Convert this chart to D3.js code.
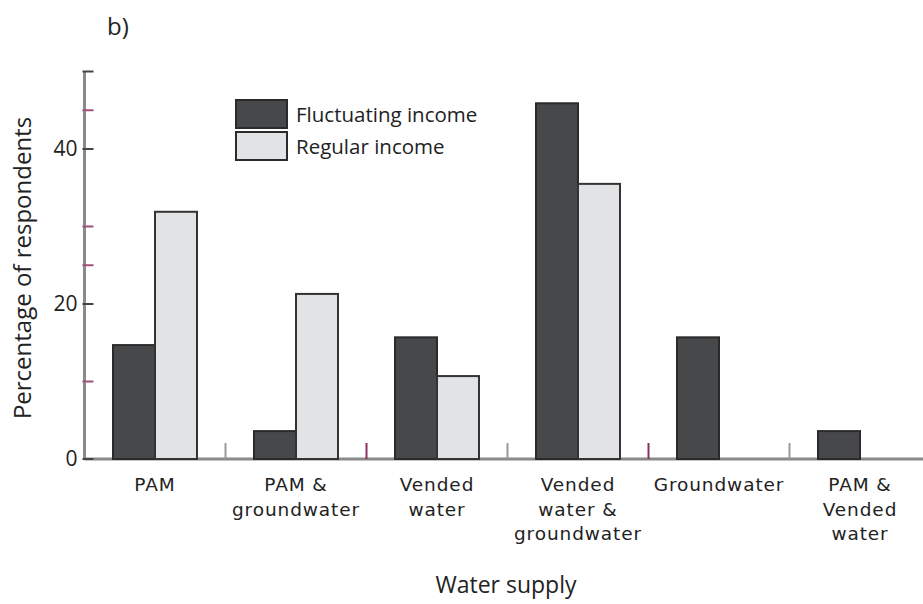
<!DOCTYPE html>
<html><head><meta charset="utf-8">
<script src="https://cdn.jsdelivr.net/npm/d3@7"></script>
<style>body{margin:0;background:#fff}svg{display:block}text{font-family:"Open Sans",sans-serif;fill:#222}text.xl{font-family:"DejaVu Sans",sans-serif}</style>
</head><body><svg id="c" width="923" height="604"></svg>
<script>
const categories = ["PAM","PAM & groundwater","Vended water","Vended water & groundwater","Groundwater","PAM & Vended water"];
const categoryLines = [["PAM"],["PAM &","groundwater"],["Vended","water"],["Vended","water &","groundwater"],["Groundwater"],["PAM &","Vended","water"]];
const seriesNames = ["Fluctuating income","Regular income"];
const fluctuating = [14.7, 3.6, 15.7, 45.9, 15.7, 3.6];
const regular = [31.9, 21.3, 10.7, 35.5, 0, 0];
const yTickLabels = [0, 20, 40];
const yMinorTicks = [0, 10, 20, 25, 30, 40, 45, 50];

const svg = d3.select("#c");
const x0 = 84.5, plotW = 846, yBase = 459, yTop = 71.5;
const x = d3.scaleBand().domain(categories).range([x0, x0 + plotW]).paddingInner(0).paddingOuter(0);
const y = d3.scaleLinear().domain([0, 50]).range([yBase, yTop]);
const xs = d3.scaleBand().domain(seriesNames).range([0, 84]);
const colors = {"Fluctuating income":"#47484a","Regular income":"#e2e3e5"};
const strokes = {"Fluctuating income":"#2a2a2a","Regular income":"#333"};

// axes
const gAxis = svg.append("g");
gAxis.append("line").attr("x1", x0).attr("x2", 923).attr("y1", yBase).attr("y2", yBase).attr("stroke","#8a8a8a").attr("stroke-width",3);
gAxis.append("line").attr("x1", x0).attr("x2", x0).attr("y1", y(50)).attr("y2", yBase).attr("stroke","#8a8a8a").attr("stroke-width",3);
gAxis.selectAll(".mt").data(yMinorTicks).join("line")
  .attr("x1", x0 - 2).attr("x2", x0 + 9).attr("y1", d => y(d)).attr("y2", d => y(d))
  .attr("stroke", d => yTickLabels.includes(d) || d===50 ? "#444" : "#a0507a").attr("stroke-width",2);
gAxis.selectAll(".tl").data(yTickLabels).join("text")
  .attr("x", x0 - 7).attr("y", d => y(d)).attr("dy","0.35em").attr("text-anchor","end")
  .attr("font-size",21).text(d => d);

// separators between groups
const seps = categories.slice(1);
svg.selectAll(".sep").data(seps).join("line")
  .attr("x1", d => x(d)).attr("x2", d => x(d)).attr("y1", yBase - 16).attr("y2", yBase)
  .attr("stroke", (d,i) => i%2===0 ? "#999" : "#8a3060").attr("stroke-width",2);

// bars
const data = categories.map((c,i) => ({c, vals:[{s:seriesNames[0], v:fluctuating[i]},{s:seriesNames[1], v:regular[i]}]}));
const g = svg.selectAll(".grp").data(data).join("g")
  .attr("transform", d => `translate(${x(d.c) + x.bandwidth()/2 - 42},0)`);
g.selectAll("rect").data(d => d.vals.filter(v => v.v > 0)).join("rect")
  .attr("x", d => xs(d.s)).attr("width", xs.bandwidth())
  .attr("y", d => y(d.v)).attr("height", d => yBase - y(d.v))
  .attr("fill", d => colors[d.s]).attr("stroke", d => strokes[d.s]).attr("stroke-width",2);

// x labels (one text per line)
const lineData = [];
categories.forEach((c,i) => categoryLines[i].forEach((t,j) => lineData.push({c, t, j})));
svg.selectAll(".xl").data(lineData).join("text").attr("class","xl")
  .attr("x", d => x(d.c) + x.bandwidth()/2).attr("y", d => 491 + d.j*24.5)
  .attr("text-anchor","middle").attr("font-size",18.5).attr("letter-spacing",0.9).text(d => d.t);

// titles
svg.append("text").attr("x", 506).attr("y", 593).attr("text-anchor","middle").attr("font-size",23).text("Water supply");
svg.append("text").attr("transform","translate(31,268) rotate(-90)").attr("text-anchor","middle").attr("font-size",24).text("Percentage of respondents");
svg.append("text").attr("x", 107).attr("y", 35).attr("font-size",24).text("b)");

// legend
const lg = svg.append("g").attr("transform","translate(236,100)");
const li = lg.selectAll("g").data(seriesNames).join("g").attr("transform",(d,i)=>`translate(0,${i*32})`);
li.append("rect").attr("width",51).attr("height",28).attr("fill",d=>colors[d]).attr("stroke","#2a2a2a").attr("stroke-width",2);
li.append("text").attr("x",60).attr("y",15).attr("dy","0.35em").attr("font-size",20.5).text(d=>d);
</script></body></html>
